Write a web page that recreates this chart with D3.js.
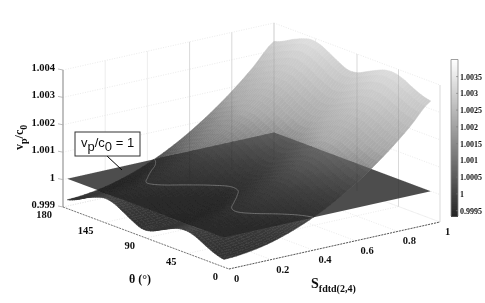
<!DOCTYPE html>
<html>
<head>
<meta charset="utf-8">
<script src="https://cdn.jsdelivr.net/npm/d3@7"></script>
<style>
    body { margin: 0; background: #fff; }
    svg { display: block; }
    text { font-family: "Liberation Serif", serif; font-weight: bold; fill: #111; }
</style>
</head>
<body>
<script>
const sValues = [0.02, 0.1, 0.2, 0.3, 0.4, 0.5, 0.6, 0.7, 0.8, 0.9, 1]
const thetaValues = [10, 20, 30, 40, 50, 60, 70, 80, 90, 100, 110, 120, 130, 140, 150, 160, 170, 180]

// vp/c0, one row per theta, one column per S
const vpRows = [
    [0.99919, 0.99923, 0.99935, 0.99956, 0.99985, 1.00022, 1.00067, 1.00120, 1.00181, 1.00251, 1.00329],
    [0.99928, 0.99932, 0.99944, 0.99965, 0.99994, 1.00031, 1.00076, 1.00129, 1.00190, 1.00260, 1.00338],
    [0.99944, 0.99948, 0.99960, 0.99981, 1.00010, 1.00047, 1.00092, 1.00145, 1.00206, 1.00276, 1.00354],
    [0.99962, 0.99966, 0.99978, 0.99999, 1.00028, 1.00065, 1.00110, 1.00163, 1.00224, 1.00294, 1.00372],
    [0.99972, 0.99976, 0.99988, 1.00009, 1.00038, 1.00075, 1.00120, 1.00173, 1.00234, 1.00304, 1.00382],
    [0.99969, 0.99973, 0.99985, 1.00006, 1.00035, 1.00072, 1.00117, 1.00170, 1.00231, 1.00301, 1.00379],
    [0.99955, 0.99959, 0.99971, 0.99992, 1.00021, 1.00058, 1.00103, 1.00156, 1.00217, 1.00287, 1.00365],
    [0.99938, 0.99942, 0.99954, 0.99975, 1.00004, 1.00041, 1.00086, 1.00139, 1.00200, 1.00270, 1.00348],
    [0.99922, 0.99926, 0.99938, 0.99959, 0.99988, 1.00025, 1.00070, 1.00123, 1.00184, 1.00254, 1.00332],
    [0.99920, 0.99924, 0.99936, 0.99957, 0.99986, 1.00023, 1.00068, 1.00121, 1.00182, 1.00252, 1.00330],
    [0.99936, 0.99940, 0.99952, 0.99973, 1.00002, 1.00039, 1.00084, 1.00137, 1.00198, 1.00268, 1.00346],
    [0.99956, 0.99960, 0.99972, 0.99993, 1.00022, 1.00059, 1.00104, 1.00157, 1.00218, 1.00288, 1.00366],
    [0.99974, 0.99978, 0.99990, 1.00011, 1.00040, 1.00077, 1.00122, 1.00175, 1.00236, 1.00306, 1.00384],
    [0.99980, 0.99984, 0.99996, 1.00017, 1.00046, 1.00083, 1.00128, 1.00181, 1.00242, 1.00312, 1.00390],
    [0.99970, 0.99974, 0.99986, 1.00007, 1.00036, 1.00073, 1.00118, 1.00171, 1.00232, 1.00302, 1.00380],
    [0.99955, 0.99959, 0.99971, 0.99992, 1.00021, 1.00058, 1.00103, 1.00156, 1.00217, 1.00287, 1.00365],
    [0.99936, 0.99940, 0.99952, 0.99973, 1.00002, 1.00039, 1.00084, 1.00137, 1.00198, 1.00268, 1.00346],
    [0.99923, 0.99927, 0.99939, 0.99960, 0.99989, 1.00026, 1.00071, 1.00124, 1.00185, 1.00255, 1.00333]
]

const planeLevel = 1

const sTicks = [0, 0.2, 0.4, 0.6, 0.8, 1]
const sTickLabels = ["0", "0.2", "0.4", "0.6", "0.8", "1"]
const thetaTicks = [0, 45, 90, 135, 180]
const thetaTickLabels = ["0", "45", "90", "145", "180"]
const zTicks = [0.999, 1, 1.001, 1.002, 1.003, 1.004]
const zTickLabels = ["0.999", "1", "1.001", "1.002", "1.003", "1.004"]
const barTicks = [0.9995, 1, 1.0005, 1.001, 1.0015, 1.002, 1.0025, 1.003, 1.0035]

const width = 485
const height = 303

const svg = d3.select("body").append("svg")
    .attr("width", width)
    .attr("height", height)

// the reference is a soft, resampled scan
svg.append("filter").attr("id", "soft")
    .attr("x", 0).attr("y", 0).attr("width", 1).attr("height", 1)
    .append("feGaussianBlur").attr("stdDeviation", 0.45)
const root = svg.append("g").attr("filter", "url(#soft)")
root.append("rect").attr("width", width).attr("height", height).attr("fill", "#fff")

// oblique projection of the box, one scale per data axis
const origin = {x: 229, y: 269}
const sToX = d3.scaleLinear().domain([0, 1]).range([0, 211])
const sToY = d3.scaleLinear().domain([0, 1]).range([0, -47])
const thetaToX = d3.scaleLinear().domain([0, 180]).range([0, -166])
const thetaToY = d3.scaleLinear().domain([0, 180]).range([0, -62])
const zToY = d3.scaleLinear().domain([0.999, 1.004]).range([0, -137])

const project = (s, theta, z) => [
    origin.x + sToX(s) + thetaToX(theta),
    origin.y + sToY(s) + thetaToY(theta) + zToY(z)
]

// gray seen where the surface lies over the white page, and where it lies over the plane
const grayOverPage = d3.scaleLinear()
    .domain([0.9992, 0.9996, 1, 1.0005, 1.0015, 1.0018, 1.0034, 1.0039])
    .range([48, 56, 74, 105, 152, 168, 208, 222])
    .clamp(true)
const grayUnderPlane = d3.scaleLinear()
    .domain([0.9992, 0.9998, 1, 1.0005, 1.0015, 1.0025])
    .range([40, 45, 50, 62, 100, 120])
    .clamp(true)
const grayOf = v => d3.rgb(v, v, v).formatHex()
const planeGray = grayOf(78)

function catmull(p0, p1, p2, p3, t) {
    return 0.5 * (2 * p1 + (p2 - p0) * t +
        (2 * p0 - 5 * p1 + 4 * p2 - p3) * t * t +
        (3 * p1 - p0 - 3 * p2 + p3) * t * t * t)
}

// smooth shading between the read grid nodes, u along theta rows, v along S columns
function surfaceAt(u, v) {
    const iu = Math.min(Math.floor(u), thetaValues.length - 2)
    const iv = Math.min(Math.floor(v), sValues.length - 2)
    const cu = i => Math.max(0, Math.min(thetaValues.length - 1, i))
    const cv = j => Math.max(0, Math.min(sValues.length - 1, j))
    const across = [-1, 0, 1, 2].map(k => {
        const row = vpRows[cu(iu + k)]
        return catmull(row[cv(iv - 1)], row[iv], row[iv + 1], row[cv(iv + 2)], v - iv)
    })
    return catmull(across[0], across[1], across[2], across[3], u - iu)
}

const sAt = d3.scaleLinear().domain(d3.range(sValues.length)).range(sValues)
const thetaAt = d3.scaleLinear().domain(d3.range(thetaValues.length)).range(thetaValues)
const line = d3.line()

// ---- walls and floor
const gridGroup = root.append("g")

function gridLine(parent, a, b, dashed) {
    parent.append("path")
        .attr("d", line([project(...a), project(...b)]))
        .attr("fill", "none")
        .attr("stroke", dashed ? "#e4e4e4" : "#e8e8e8")
        .attr("stroke-width", 0.8)
        .attr("stroke-dasharray", dashed ? "1,1.5" : null)
}

zTicks.forEach(z => {
    gridLine(gridGroup, [0, 180, z], [1, 180, z], true)
    gridLine(gridGroup, [1, 180, z], [1, 0, z], true)
})
sTicks.forEach(s => {
    gridLine(gridGroup, [s, 0, 0.999], [s, 180, 0.999], true)
    gridLine(gridGroup, [s, 180, 0.999], [s, 180, 1.004], false)
})
thetaTicks.forEach(t => {
    gridLine(gridGroup, [0, t, 0.999], [1, t, 0.999], true)
    gridLine(gridGroup, [1, t, 0.999], [1, t, 1.004], false)
})

// ---- the plane vp/c0 = 1, on the same S and theta span as the surface
const [sLo, sHi] = d3.extent(sValues)
const [thetaLo, thetaHi] = d3.extent(thetaValues)
const planeCorners = [[sLo, thetaLo], [sHi, thetaLo], [sHi, thetaHi], [sLo, thetaHi]]
    .map(c => project(c[0], c[1], planeLevel))
svg.append("clipPath").attr("id", "plane-clip")
    .append("path").attr("d", line(planeCorners) + "Z")
root.append("path")
    .attr("d", line(planeCorners) + "Z")
    .attr("fill", planeGray)

// ---- the surface, back to front, painted once for the page and once through the plane
const steps = 4
const cells = []
for (let i = (thetaValues.length - 1) * steps - 1; i >= 0; i--) {
    for (let j = (sValues.length - 1) * steps - 1; j >= 0; j--) {
        const u0 = i / steps, u1 = (i + 1) / steps
        const v0 = j / steps, v1 = (j + 1) / steps
        const corners = [[u0, v0], [u1, v0], [u1, v1], [u0, v1]]
        cells.push({
            path: line(corners.map(c => project(sAt(c[1]), thetaAt(c[0]), surfaceAt(c[0], c[1])))) + "Z",
            z: surfaceAt((u0 + u1) / 2, (v0 + v1) / 2)
        })
    }
}

function paintSurface(parent, gray) {
    parent.selectAll("path")
        .data(cells)
        .enter()
        .append("path")
        .attr("d", d => d.path)
        .attr("fill", d => grayOf(gray(d.z)))
        .attr("stroke", d => grayOf(gray(d.z)))
        .attr("stroke-width", 0.5)
}

paintSurface(root.append("g"), grayOverPage)
paintSurface(root.append("g").attr("clip-path", "url(#plane-clip)"), grayUnderPlane)

// ---- where the surface meets the plane
const fine = 12
const nodeAt = (i, j) => ({u: i / fine, v: j / fine, z: surfaceAt(i / fine, j / fine)})
const crossing = (a, b) => {
    const k = (planeLevel - a.z) / (b.z - a.z)
    return project(sAt(a.v + (b.v - a.v) * k), thetaAt(a.u + (b.u - a.u) * k), planeLevel)
}
let contourPath = ""
for (let i = 0; i < (thetaValues.length - 1) * fine; i++) {
    for (let j = 0; j < (sValues.length - 1) * fine; j++) {
        const c = [nodeAt(i, j), nodeAt(i + 1, j), nodeAt(i + 1, j + 1), nodeAt(i, j + 1)]
        const hits = []
        c.forEach((n, k) => {
            const m = c[(k + 1) % 4]
            if ((n.z - planeLevel) * (m.z - planeLevel) < 0) hits.push(crossing(n, m))
        })
        if (hits.length >= 2) contourPath += line(hits.slice(0, 2))
    }
}
root.append("path")
    .attr("d", contourPath)
    .attr("fill", "none")
    .attr("stroke", "#808080")
    .attr("stroke-width", 0.8)

// wall verticals show faintly through the surface
const throughGroup = root.append("g").attr("opacity", 0.1)
sTicks.filter(s => s > 0.5).forEach(s => {
    throughGroup.append("path")
        .attr("d", line([project(s, 180, 0.999), project(s, 180, 1.004)]))
        .attr("stroke", "#000").attr("stroke-width", 0.8)
})
thetaTicks.filter(t => t < 135).forEach(t => {
    throughGroup.append("path")
        .attr("d", line([project(1, t, 0.999), project(1, t, 1.004)]))
        .attr("stroke", "#000").attr("stroke-width", 0.8)
})

// ---- axes of the box
root.append("path")
    .attr("d", line([project(0, 180, 0.999), project(0, 180, 1.004)]))
    .attr("stroke", "#8a8a8a").attr("stroke-width", 1)
root.append("path")
    .attr("d", line([project(0, 180, 0.999), project(0, 0, 0.999)]))
    .attr("stroke", "#777").attr("stroke-width", 1).attr("stroke-dasharray", "2,1")
root.append("path")
    .attr("d", line([project(0, 0, 0.999), project(1, 0, 0.999)]))
    .attr("stroke", "#555").attr("stroke-width", 1).attr("stroke-dasharray", "2,1")

zTicks.forEach((z, i) => {
    const [x, y] = project(0, 180, z)
    root.append("path")
        .attr("d", line([[x - 5, y - 1], [x, y]]))
        .attr("stroke", "#aaa").attr("stroke-width", 0.8)
    root.append("text")
        .attr("x", x - 8).attr("y", y + 1)
        .attr("text-anchor", "end")
        .attr("font-size", 10.5)
        .text(zTickLabels[i])
})

thetaTicks.forEach((t, i) => {
    const [x, y] = project(0, t, 0.999)
    root.append("text")
        .attr("x", x - 11).attr("y", y + 11)
        .attr("text-anchor", "end")
        .attr("font-size", 10.5)
        .text(thetaTickLabels[i])
})

sTicks.forEach((s, i) => {
    const [x, y] = project(s, 0, 0.999)
    root.append("text")
        .attr("x", x + 5).attr("y", y + 13)
        .attr("font-size", 10.5)
        .text(sTickLabels[i])
})

// ---- axis titles
root.append("text")
    .attr("x", 140).attr("y", 283)
    .attr("text-anchor", "middle")
    .attr("font-size", 12)
    .text("θ (°)")

const sTitle = root.append("text").attr("x", 311).attr("y", 288).attr("font-size", 14)
sTitle.append("tspan").text("S")
sTitle.append("tspan").attr("dy", 4).attr("font-size", 10).text("fdtd(2,4)")

const vTitle = root.append("text")
    .attr("transform", "translate(23,150) rotate(-90)")
    .attr("font-size", 12)
vTitle.append("tspan").text("v")
vTitle.append("tspan").attr("dy", 4).attr("font-size", 10).text("p")
vTitle.append("tspan").attr("dy", -4).text("/c")
vTitle.append("tspan").attr("dy", 4).attr("font-size", 10).text("0")

// ---- annotation
root.append("path")
    .attr("d", line([[107, 156], [122, 170]]))
    .attr("stroke", "#000").attr("stroke-width", 1)
root.append("rect")
    .attr("x", 75).attr("y", 132)
    .attr("width", 65).attr("height", 24)
    .attr("fill", "#fff")
    .attr("stroke", "#333").attr("stroke-width", 1)
const note = root.append("text")
    .attr("x", 81).attr("y", 147)
    .attr("font-size", 13)
    .style("font-family", "'Liberation Sans', sans-serif")
    .style("font-weight", "normal")
note.append("tspan").text("v")
note.append("tspan").attr("dy", 4).text("p")
note.append("tspan").attr("dy", -4).text("/c")
note.append("tspan").attr("dy", 4).text("0")
note.append("tspan").attr("dy", -4).text(" = 1")

// ---- colorbar
const barScale = d3.scaleLinear().domain([0.99934, 1.00401]).range([216, 59.5])
const barX = 451
const barW = 7
const barValues = d3.range(barScale.range()[1], barScale.range()[0], 1)
root.append("g").selectAll("rect")
    .data(barValues)
    .enter()
    .append("rect")
    .attr("x", barX)
    .attr("y", d => d)
    .attr("width", barW)
    .attr("height", 1.2)
    .attr("fill", d => grayOf((216 - d) / (216 - 59.5) * 255))
root.append("path")
    .attr("d", line([[barX, 216], [barX, 59.5], [barX + barW, 59.5], [barX + barW, 216]]))
    .attr("fill", "none").attr("stroke", "#888").attr("stroke-width", 0.8)

const barAxis = root.append("g")
    .attr("transform", `translate(${barX + barW},0)`)
    .call(d3.axisRight(barScale)
        .tickValues(barTicks)
        .tickFormat(d3.format("~r"))
        .tickSize(0)
        .tickPadding(2))
barAxis.select(".domain").remove()
barAxis.selectAll("text")
    .attr("font-size", 8)
    .style("font-family", "'Liberation Serif', serif")
    .style("font-weight", "bold")
    .style("fill", "#111")
barTicks.forEach(t => {
    root.append("path")
        .attr("d", line([[barX + barW - 2, barScale(t)], [barX + barW, barScale(t)]]))
        .attr("stroke", "#777").attr("stroke-width", 0.6)
})
</script>
</body>
</html>
